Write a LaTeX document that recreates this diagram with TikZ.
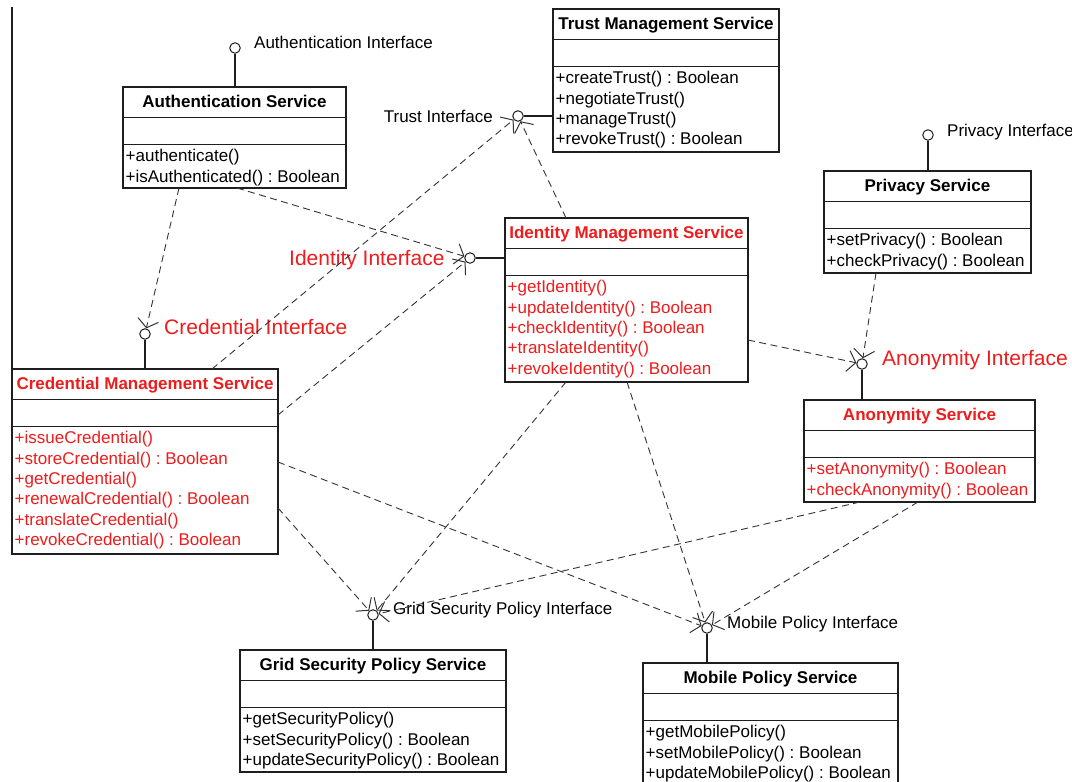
\documentclass[tikz,border=0pt]{standalone}
\usepackage{fontspec}
\setmainfont{Liberation Sans}
\usetikzlibrary{arrows.meta}

\definecolor{opred}{RGB}{238,28,28}
\definecolor{edge}{RGB}{30,30,30}

\tikzset{
  classbox/.style={draw=edge, line width=1.2pt, anchor=north west, inner sep=0pt, outer sep=0pt, fill=white},
  classline/.style={draw=edge, line width=1.2pt},
  classtitle/.style={anchor=base, inner sep=0pt, font=\fontsize{17}{20.4}\selectfont\bfseries},
  classops/.style={anchor=north west, align=left, inner xsep=2.5pt, inner ysep=4.6pt,
    font=\fontsize{17}{20.4}\selectfont\frenchspacing},
  iface/.style={circle, draw=edge, line width=1pt, minimum size=10.5pt, inner sep=0pt, fill=white},
  stem/.style={draw=edge, line width=1.1pt},
  ilabel/.style={inner sep=0pt, font=\fontsize{17}{20}\selectfont},
  rlabel/.style={inner sep=0pt, text=opred, font=\fontsize{21}{24}\selectfont},
  dep/.style={draw=black!80, line width=0.9pt, dash pattern=on 7pt off 4.5pt,
    -{Straight Barb[length=8pt,width=21pt,line width=1pt]}},
}

% #1 name, #2 x, #3 y (top left), #4 width, #5 height, #6 colour, #7 title, #8 operations
\newcommand\umlclass[8]{%
  \node[classbox, minimum width=#4, minimum height=#5] (#1) at (#2,#3) {};
  \draw[classline] ([yshift=-30.5]#1.north west) -- ([yshift=-30.5]#1.north east);
  \draw[classline] ([yshift=-57.5]#1.north west) -- ([yshift=-57.5]#1.north east);
  \node[classtitle, text=#6] (#1-title) at ([yshift=-20.5]#1.north) {#7};
  \node[classops, text=#6] (#1-ops) at ([yshift=-57.5]#1.north west) {#8};
}

\begin{document}
\begin{tikzpicture}[x=1pt, y=-1pt]
\useasboundingbox (0,0) rectangle (1072,782);

% ---------- classes ----------
\umlclass{auth}{123}{87}{223}{101}{black}{Authentication Service}
  {+authenticate()\\+isAuthenticated() : Boolean}
\umlclass{trust}{553}{9}{226}{143}{black}{Trust Management Service}
  {+createTrust() : Boolean\\+negotiateTrust()\\+manageTrust()\\+revokeTrust() : Boolean}
\umlclass{ident}{505}{218}{243}{164}{opred}{Identity Management Service}
  {+getIdentity()\\+updateIdentity() : Boolean\\+checkIdentity() : Boolean\\+translateIdentity()\\+revokeIdentity() : Boolean}
\umlclass{priv}{824}{171}{207}{102}{black}{Privacy Service}
  {+setPrivacy() : Boolean\\+checkPrivacy() : Boolean}
\umlclass{anon}{804}{400}{231}{102}{opred}{Anonymity Service}
  {+setAnonymity() : Boolean\\+checkAnonymity() : Boolean}
\umlclass{cred}{12}{369}{266}{185}{opred}{Credential Management Service}
  {+issueCredential()\\+storeCredential() : Boolean\\+getCredential()\\+renewalCredential() : Boolean\\+translateCredential()\\+revokeCredential() : Boolean}
\umlclass{grid}{240}{650}{266}{122}{black}{Grid Security Policy Service}
  {+getSecurityPolicy()\\+setSecurityPolicy() : Boolean\\+updateSecurityPolicy() : Boolean}
\umlclass{mob}{643}{663}{255}{126}{black}{Mobile Policy Service}
  {+getMobilePolicy()\\+setMobilePolicy() : Boolean\\+updateMobilePolicy() : Boolean}

% left frame edge
\coordinate (frametop) at (12,7);
\draw[stem] (frametop) -- (cred.north west);

% ---------- provided interfaces (lollipops) ----------
\node[iface] (authI)  at (235,48)  {};
\node[iface] (trustI) at (518,116) {};
\node[iface] (identI) at (470,258) {};
\node[iface] (credI)  at (145,334) {};
\node[iface] (privI)  at (928,135) {};
\node[iface] (anonI)  at (862,364) {};
\node[iface] (gridI)  at (373,615) {};
\node[iface] (mobI)   at (707,628) {};

\draw[stem] (authI)  -- (authI |- auth.north);
\draw[stem] (trustI) -- (trustI -| trust.west);
\draw[stem] (identI) -- (identI -| ident.west);
\draw[stem] (credI)  -- (credI |- cred.north);
\draw[stem] (privI)  -- (privI |- priv.north);
\draw[stem] (anonI)  -- (anonI |- anon.north);
\draw[stem] (gridI)  -- (gridI |- grid.north);
\draw[stem] (mobI)   -- (mobI |- mob.north);

% ---------- interface labels ----------
\node[ilabel, anchor=base west] (authL)  at (254,48)  {Authentication Interface};
\node[ilabel, anchor=base east] (trustL) at (493,122) {Trust Interface};
\node[rlabel, anchor=base west] (identL) at (289,265.5) {Identity Interface};
\node[rlabel, anchor=base west] (credL)  at (164,334.5) {Credential Interface};
\node[ilabel, anchor=base west] (privL)  at (947,136) {Privacy Interface};
\node[rlabel, anchor=base west] (anonL)  at (882,365.5) {Anonymity Interface};
\node[ilabel, anchor=base west] (gridL)  at (393,614) {Grid Security Policy Interface};
\node[ilabel, anchor=base west] (mobL)   at (727,628) {Mobile Policy Interface};

% ---------- dependencies ----------
\draw[dep] ([xshift=56]auth.south west)   -- (credI);
\draw[dep] ([xshift=114]auth.south west)  -- (identI);
\draw[dep] ([xshift=200]cred.north west)  -- (trustI);
\draw[dep] ([yshift=-46]cred.north east)  -- (identI);
\draw[dep] ([xshift=61]ident.north west)  -- (trustI);
\draw[dep] ([yshift=-122]ident.north east) -- (anonI);
\draw[dep] ([xshift=52]priv.south west)   -- (anonI);
\draw[dep] ([yshift=-93]cred.north east)  -- (mobI);
\draw[dep] ([yshift=-139]cred.north east) -- (gridI);
\draw[dep] ([xshift=61]ident.south west)  -- (gridI);
\draw[dep] ([xshift=122]ident.south west) -- (mobI);
\draw[dep] ([xshift=56]anon.south west)   -- (gridI);
\draw[dep] ([xshift=114]anon.south west)  -- (mobI);
\end{tikzpicture}
\end{document}
